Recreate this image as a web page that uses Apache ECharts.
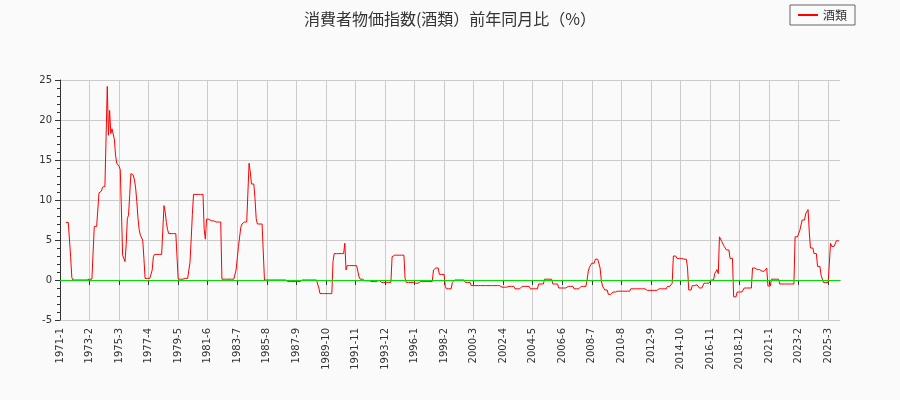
<!DOCTYPE html>
<html>
<head>
<meta charset="utf-8">
<script src="https://cdn.jsdelivr.net/npm/echarts@6/dist/echarts.min.js"></script>
<style>
  body { margin: 0; background: #fafafa; }
  #main { width: 900px; height: 400px; }
</style>
</head>
<body>
<div id="main"></div>
<script>
// Monthly values from 1971-1: [value, months]
const runValues = [null, 7.2, 7.0, 2.9, 0.3, 0, 0.1, 3.4, 6.7, 10.9, 11.1, 11.6, 11.7, 17.9, 24.2, 18.1, 21.2, 18.3, 18.9,
  17.6, 15.6, 14.6, 14.2, 13.8, 8.5, 3.1, 2.3, 4.4, 7.7, 8.1, 10.7, 13.3, 13.1, 12.5, 11.5, 9.8, 7.7, 6.3, 5.6, 5.0, 2.7,
  0.2, 1.25, 2.9, 3.2, 9.3, 8.5, 7.2, 6.3, 5.8, 0.1, 0.2, 2.2, 5.1, 8.2, 10.7, 6.3, 5.1, 7.6, 7.4, 7.25, 0.1, 1.25, 2.7,
  4.2, 6.6, 7.0, 7.25, 14.6, 13.5, 12.0, 10.2, 7.7, 7.0, 0, -0.2, 0, -1.0, -1.7, 2.3, 3.3, 4.6, 1.25, 1.8, 0.4, 0.1,
  -0.1, -0.2, 0, -0.3, 2.9, 3.1, 0.2, -0.3, -0.4, -0.2, 1.25, 1.5, 0.7, -0.8, -1.1, -0.3, 0, -0.3, -0.7, -0.9, -0.8,
  -1.1, -0.8, -1.1, -0.5, 0.1, -0.5, -1.0, -0.8, -1.1, -0.8, 0, 1.1, 1.6, 2.1, 2.6, 1.5, 0, -0.75, -1.25, -1.8, -1.5,
  -1.4, -1.1, -1.3, -1.1, -0.8, -0.4, 3.0, 2.7, 2.6, 1.5, -1.25, -0.7, -0.6, -1.0, -0.4, 0, 0.8, 1.3, 0.8, 5.4, 4.8,
  4.2, 3.75, 2.7, -2.1, -1.5, -1.0, 1.5, 1.3, 1.1, 1.5, -0.75, 0.1, -0.5, 5.4, 6.2, 7.5, 8.3, 8.8, 6.0, 4.0, 3.3, 1.7,
  0.6, -0.3, 4.6, 4.2, 4.9];
const runLengths = [5, 3, 1, 1, 1, 13, 4, 1, 4, 1, 2, 2, 1, 1, 1, 1, 1, 1, 2,
  1, 1, 2, 1, 1, 1, 2, 1, 1, 1, 1, 1, 2, 1, 1, 1, 1, 1, 1, 2, 1, 1,
  6, 1, 1, 8, 1, 1, 1, 1, 8, 6, 4, 1, 1, 1, 9, 1, 1, 4, 3, 6, 12, 1, 1,
  2, 1, 1, 5, 1, 1, 3, 1, 1, 6, 19, 12, 15, 1, 11, 1, 9, 1, 1, 10, 1, 3,
  6, 6, 3, 9, 1, 10, 1, 7, 5, 11, 1, 4, 5, 1, 5, 2, 9, 5, 25, 6, 6,
  6, 7, 7, 5, 7, 5, 7, 6, 6, 5, 1, 1, 2, 3, 4, 1, 1, 2, 3, 4, 4,
  11, 14, 9, 8, 4, 1, 3, 6, 3, 1, 3, 3, 3, 4, 6, 3, 2, 1, 1, 2, 2,
  2, 3, 3, 3, 6, 7, 3, 4, 5, 1, 3, 7, 13, 4, 2, 3, 2, 1, 1, 3, 3, 3,
  2, 6, 1, 4, 4];

let values = [];
for (let i = 0; i < runValues.length; i++) {
  for (let k = 0; k < runLengths[i]; k++) values.push(runValues[i]);
}
let months = [];
for (let i = 0; i < values.length; i++) {
  months.push((1971 + Math.floor(i / 12)) + "-" + ((i % 12) + 1));
}

var myChart = echarts.init(document.getElementById("main"));

var option = {
  backgroundColor: "#fafafa",
  textStyle: { fontFamily: "DejaVu Sans, Noto Sans CJK JP" },
  title: {
    text: "消費者物価指数(酒類）前年同月比（%）",
    left: "center",
    top: 6,
    textStyle: { fontSize: 16, fontWeight: "normal", color: "#333", fontFamily: "Noto Sans CJK JP" },
  },
  legend: {
    right: 45,
    top: 5,
    borderColor: "#666",
    borderWidth: 1,
    borderRadius: 0,
    padding: [4, 8],
    itemWidth: 20,
    itemHeight: 2,
    textStyle: { fontSize: 12, color: "#333", fontFamily: "Noto Sans CJK JP" },
    data: [{ name: "酒類", icon: "rect" }],
  },
  grid: { left: 60, right: 60, top: 80, bottom: 80 },
  xAxis: {
    type: "category",
    data: months,
    boundaryGap: false,
    axisLine: { lineStyle: { color: "#333" } },
    axisTick: { interval: 24, lineStyle: { color: "#333" } },
    axisLabel: { interval: 24, rotate: 90, fontSize: 10, color: "#333" },
    splitLine: { show: true, interval: 24, lineStyle: { color: "#ccc" } },
  },
  yAxis: {
    type: "value",
    min: -5,
    max: 25,
    interval: 5,
    axisLine: { show: true, lineStyle: { color: "#333" } },
    axisTick: { show: true },
    minorTick: { show: true, splitNumber: 5 },
    axisLabel: { fontSize: 10, color: "#333" },
    splitLine: { lineStyle: { color: "#ccc" } },
  },
  series: [
    {
      name: "酒類",
      type: "line",
      data: values,
      showSymbol: false,
      lineStyle: { color: "red", width: 1 },
      itemStyle: { color: "red" },
      markLine: {
        silent: true,
        symbol: "none",
        label: { show: false },
        lineStyle: { color: "#00dd00", type: "solid", width: 1.2 },
        data: [{ yAxis: 0 }],
      },
    },
  ],
};

myChart.setOption(option);
</script>
</body>
</html>
